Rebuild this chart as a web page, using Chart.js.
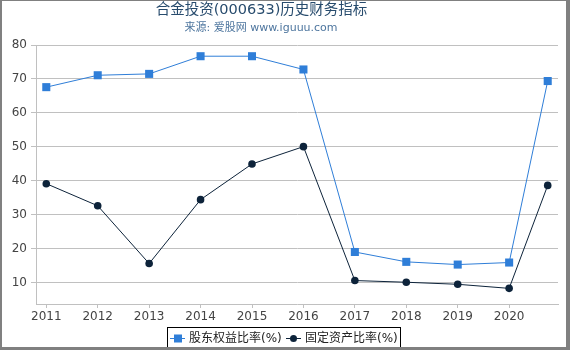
<!DOCTYPE html>
<html>
<head>
<meta charset="utf-8">
<script src="https://cdn.jsdelivr.net/npm/chart.js@4"></script>
<style>
    body { margin: 0; background: #fff; }
    #chart { display: block; }
</style>
</head>
<body>
<canvas id="chart" width="570" height="350"></canvas>
<script>
// Tick labels on the x axis and the x position of every point (last one is a partial year)
const years = [2011, 2012, 2013, 2014, 2015, 2016, 2017, 2018, 2019, 2020];
const periods = [2011, 2012, 2013, 2014, 2015, 2016, 2017, 2018, 2019, 2020, 2020.75];
const yTicks = [10, 20, 30, 40, 50, 60, 70, 80];

const titleText = '合金投资(000633)历史财务指标';
const subtitleText = '来源: 爱股网 www.iguuu.com';
const seriesNames = ['股东权益比率(%)', '固定资产比率(%)'];
const equityRatio = [67.6, 71.1, 71.5, 76.7, 76.7, 72.8, 19.1, 16.2, 15.4, 16.0, 69.4];
const fixedAssetRatio = [39.2, 32.7, 15.7, 34.5, 45.0, 50.1, 10.7, 10.2, 9.6, 8.4, 38.7];

const FONT = '"DejaVu Sans", "Noto Sans CJK SC", sans-serif';
const BLUE = '#2f7ed8';
const NAVY = '#0d233a';

document.addEventListener('DOMContentLoaded', function() {
    createChart();
});

function toPoints(values) {
    return values.map((v, i) => ({ x: periods[i], y: v }));
}

// white background, titles, outer frame and the boxed legend at the bottom
const framePlugin = {
    id: 'frame',
    beforeDraw(chart) {
        const ctx = chart.ctx;
        ctx.save();
        ctx.fillStyle = '#fff';
        ctx.fillRect(0, 0, chart.width, chart.height);
        ctx.restore();
    },
    afterDraw(chart) {
        const ctx = chart.ctx;
        ctx.save();

        // titles (the source centres them a bit left of the middle)
        ctx.textAlign = 'center';
        ctx.textBaseline = 'middle';
        ctx.fillStyle = '#274b6d';
        ctx.font = '14.5px ' + FONT;
        ctx.fillText(titleText, 261.5, 10.5);
        ctx.fillStyle = '#4d759e';
        ctx.font = '11px ' + FONT;
        ctx.fillText(subtitleText, 261, 28.5);

        // legend box
        ctx.textAlign = 'left';
        ctx.strokeStyle = '#000';
        ctx.lineWidth = 1;
        ctx.strokeRect(167.5, 327.5, 233, 21);

        ctx.font = '12px ' + FONT;
        const cy = 338;
        const items = [
            { x: 170, color: BLUE, shape: 'rect' },
            { x: 286, color: NAVY, shape: 'circle' }
        ];
        items.forEach((item, i) => {
            ctx.strokeStyle = item.color;
            ctx.fillStyle = item.color;
            ctx.beginPath();
            ctx.moveTo(item.x, cy + 0.5);
            ctx.lineTo(item.x + 15, cy + 0.5);
            ctx.stroke();
            if (item.shape === 'rect') {
                ctx.fillRect(item.x + 4, cy - 3.5, 8, 8);
            } else {
                ctx.beginPath();
                ctx.arc(item.x + 7.5, cy + 0.5, 3.5, 0, Math.PI * 2);
                ctx.fill();
            }
            ctx.fillStyle = '#222';
            ctx.fillText(seriesNames[i], item.x + 19, cy + 1);
        });

        // outer frame
        ctx.fillStyle = '#808080';
        ctx.fillRect(0, 0, chart.width, 1);
        ctx.fillRect(0, 0, 2, chart.height);
        ctx.fillRect(chart.width - 4, 0, 4, chart.height);
        ctx.fillRect(0, chart.height - 3, chart.width, 3);
        ctx.restore();
    }
};

function createChart() {
    const ctx = document.getElementById('chart').getContext('2d');
    new Chart(ctx, {
        type: 'line',
        data: {
            datasets: [{
                label: seriesNames[0],
                data: toPoints(equityRatio),
                borderColor: BLUE,
                backgroundColor: BLUE,
                borderWidth: 1,
                pointStyle: 'rect',
                pointRadius: 5.7,
                pointBorderWidth: 0,
                tension: 0
            }, {
                label: seriesNames[1],
                data: toPoints(fixedAssetRatio),
                borderColor: NAVY,
                backgroundColor: NAVY,
                borderWidth: 1,
                pointStyle: 'circle',
                pointRadius: 3.8,
                pointBorderWidth: 0,
                tension: 0
            }]
        },
        options: {
            responsive: false,
            animation: false,
            layout: {
                padding: { left: 0, right: 12, top: 45, bottom: 0 }
            },
            plugins: {
                legend: { display: false },
                tooltip: { enabled: false },
                title: { display: false }
            },
            scales: {
                x: {
                    type: 'linear',
                    min: 2010.8,
                    max: 2020.95,
                    afterBuildTicks: scale => {
                        scale.ticks = years.map(v => ({ value: v }));
                    },
                    afterFit: scale => {
                        scale.height = 46;
                    },
                    ticks: {
                        color: '#444',
                        font: { size: 12, family: FONT },
                        padding: 2,
                        maxRotation: 0,
                        callback: value => String(value)
                    },
                    grid: {
                        drawOnChartArea: false,
                        drawTicks: true,
                        tickLength: 4,
                        color: '#c0c0c0'
                    },
                    border: { color: '#c0c0c0' }
                },
                y: {
                    min: 3.8,
                    max: 80,
                    afterBuildTicks: scale => {
                        scale.ticks = yTicks.map(v => ({ value: v }));
                    },
                    afterFit: scale => {
                        scale.width = 36;
                    },
                    ticks: {
                        color: '#444',
                        font: { size: 12, family: FONT },
                        padding: 4
                    },
                    grid: {
                        color: '#c0c0c0',
                        tickLength: 5
                    },
                    border: { color: '#c0c0c0' }
                }
            }
        },
        plugins: [framePlugin]
    });
}
</script>
</body>
</html>
